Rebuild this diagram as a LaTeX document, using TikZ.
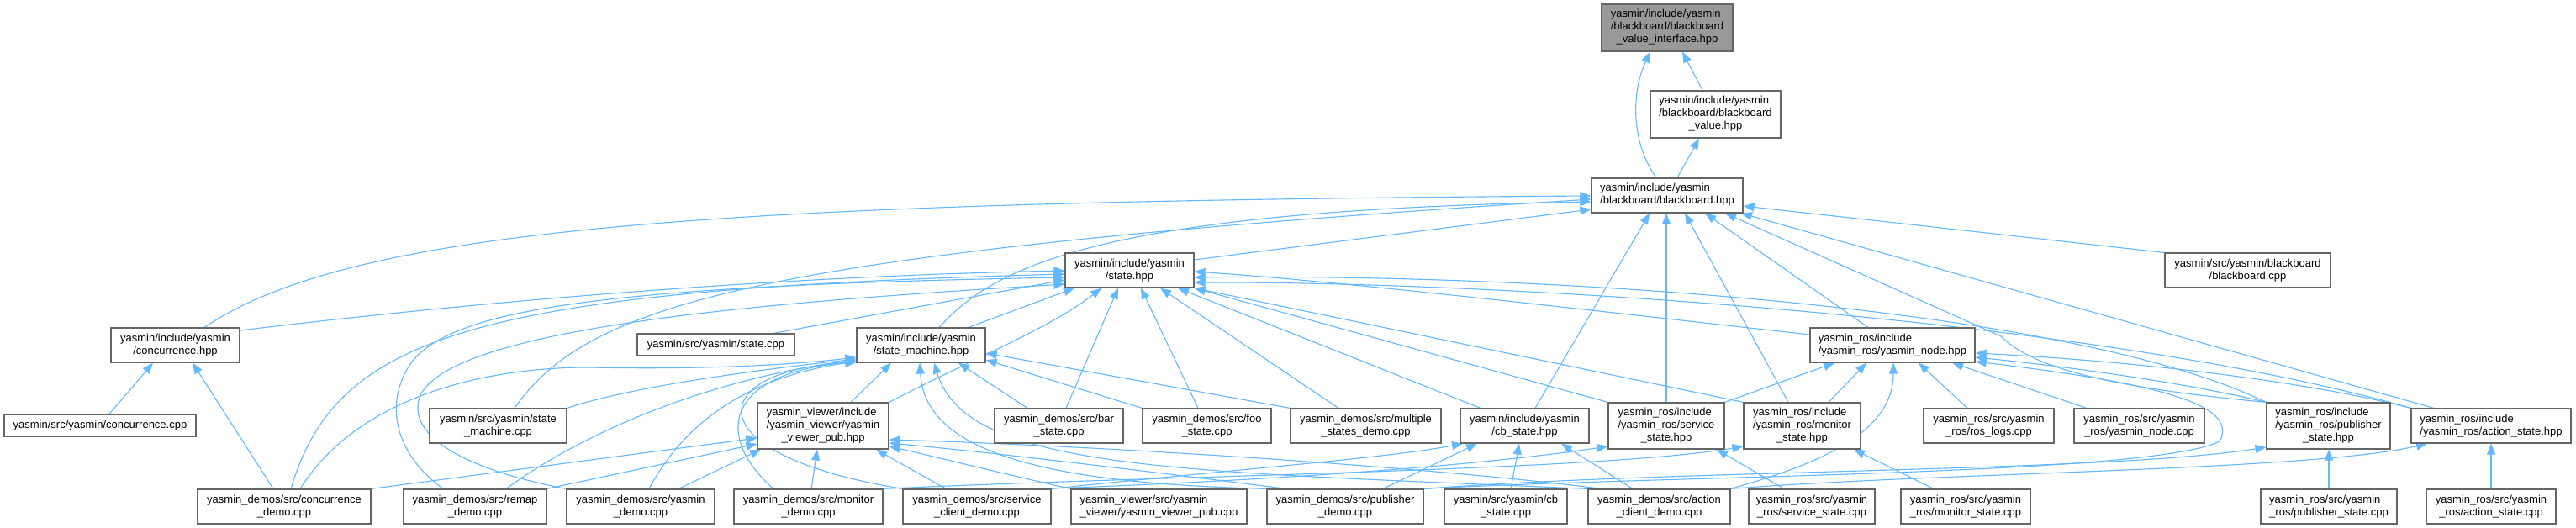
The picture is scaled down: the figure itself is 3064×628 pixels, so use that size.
\documentclass[tikz,border=0pt]{standalone}
\usepackage{fontspec}
\setmainfont{Liberation Sans}
\usetikzlibrary{arrows.meta}
\definecolor{edgec}{HTML}{63B8FF}
\definecolor{nodeb}{HTML}{666666}
\definecolor{rootf}{HTML}{999999}
\pgfdeclarelayer{bg}
\pgfdeclarelayer{bgfill}
\pgfsetlayers{bgfill,bg,main}
\newcommand\twol[2]{\begin{tabular}{@{}l@{}}#1\\\multicolumn{1}{@{}c@{}}{#2}\end{tabular}}
\newcommand\threel[3]{\begin{tabular}{@{}l@{}}#1\\#2\\\multicolumn{1}{@{}c@{}}{#3}\end{tabular}}
\newcommand\bx[7]{\node[#1, minimum width={(#5)-(#3)}, minimum height={(#6)-(#4)}] (#2) at ({((#3)+(#5))/2},{((#4)+(#6))/2}) {#7};}
\begin{document}
\begin{tikzpicture}[x=1pt,y=-1pt,
  e/.style={draw=edgec, line width=1.1pt, -{Triangle[length=13pt,width=10pt]}},
  nbox/.style={draw=nodeb, fill=white, line width=1.2pt, inner sep=0pt, font=\fontsize{13}{15}\selectfont},
  nroot/.style={nbox, fill=rootf}]
\begin{pgfonlayer}{bgfill}
\fill[white] (0,0) rectangle (3064,628);
\end{pgfonlayer}
\useasboundingbox (0,0) rectangle (3064,628);
% nodes
\bx{nroot}{N0}{1905}{5}{2061}{61}{\threel{yasmin/include/yasmin}{/blackboard/blackboard}{\_value\_interface.hpp}}
\bx{nbox}{N1}{1963}{108}{2118}{164}{\threel{yasmin/include/yasmin}{/blackboard/blackboard}{\_value.hpp}}
\bx{nbox}{N2}{1893}{212}{2073}{253}{\twol{yasmin/include/yasmin}{/blackboard/blackboard.hpp}}
\bx{nbox}{N3}{1267}{301}{1420}{342}{\twol{yasmin/include/yasmin}{/state.hpp}}
\bx{nbox}{N4}{2575}{301}{2772}{342}{\twol{yasmin/src/yasmin/blackboard}{/blackboard.cpp}}
\bx{nbox}{N5}{132}{390}{285}{431}{\twol{yasmin/include/yasmin}{/concurrence.hpp}}
\bx{nbox}{N6}{758}{397}{945}{423}{yasmin/src/yasmin/state.cpp}
\bx{nbox}{N7}{1019}{390}{1172}{431}{\twol{yasmin/include/yasmin}{/state\_machine.hpp}}
\bx{nbox}{N8}{2153}{390}{2349}{431}{\twol{yasmin\_ros/include}{/yasmin\_ros/yasmin\_node.hpp}}
\bx{nbox}{N9}{5}{493}{233}{519}{yasmin/src/yasmin/concurrence.cpp}
\bx{nbox}{N10}{511}{486}{674}{527}{\twol{yasmin/src/yasmin/state}{\_machine.cpp}}
\bx{nbox}{N11}{901}{479}{1057}{534}{\threel{yasmin\_viewer/include}{/yasmin\_viewer/yasmin}{\_viewer\_pub.hpp}}
\bx{nbox}{N12}{1183}{486}{1336}{527}{\twol{yasmin\_demos/src/bar}{\_state.cpp}}
\bx{nbox}{N13}{1359}{486}{1512}{527}{\twol{yasmin\_demos/src/foo}{\_state.cpp}}
\bx{nbox}{N14}{1535}{486}{1714}{527}{\twol{yasmin\_demos/src/multiple}{\_states\_demo.cpp}}
\bx{nbox}{N15}{1737}{486}{1890}{527}{\twol{yasmin/include/yasmin}{/cb\_state.hpp}}
\bx{nbox}{N16}{1913}{479}{2051}{534}{\threel{yasmin\_ros/include}{/yasmin\_ros/service}{\_state.hpp}}
\bx{nbox}{N17}{2074}{479}{2213}{534}{\threel{yasmin\_ros/include}{/yasmin\_ros/monitor}{\_state.hpp}}
\bx{nbox}{N18}{2288}{486}{2443}{527}{\twol{yasmin\_ros/src/yasmin}{\_ros/ros\_logs.cpp}}
\bx{nbox}{N19}{2467}{486}{2622}{527}{\twol{yasmin\_ros/src/yasmin}{\_ros/yasmin\_node.cpp}}
\bx{nbox}{N20}{2696}{479}{2843}{534}{\threel{yasmin\_ros/include}{/yasmin\_ros/publisher}{\_state.hpp}}
\bx{nbox}{N21}{2868}{486}{3058}{527}{\twol{yasmin\_ros/include}{/yasmin\_ros/action\_state.hpp}}
\bx{nbox}{N22}{235}{582}{441}{623}{\twol{yasmin\_demos/src/concurrence}{\_demo.cpp}}
\bx{nbox}{N23}{480}{582}{650}{623}{\twol{yasmin\_demos/src/remap}{\_demo.cpp}}
\bx{nbox}{N24}{674}{582}{850}{623}{\twol{yasmin\_demos/src/yasmin}{\_demo.cpp}}
\bx{nbox}{N25}{873}{582}{1050}{623}{\twol{yasmin\_demos/src/monitor}{\_demo.cpp}}
\bx{nbox}{N26}{1074}{582}{1250}{623}{\twol{yasmin\_demos/src/service}{\_client\_demo.cpp}}
\bx{nbox}{N27}{1274}{582}{1483}{623}{\twol{yasmin\_viewer/src/yasmin}{\_viewer/yasmin\_viewer\_pub.cpp}}
\bx{nbox}{N28}{1507}{582}{1693}{623}{\twol{yasmin\_demos/src/publisher}{\_demo.cpp}}
\bx{nbox}{N29}{1718}{582}{1864}{623}{\twol{yasmin/src/yasmin/cb}{\_state.cpp}}
\bx{nbox}{N30}{1889}{582}{2058}{623}{\twol{yasmin\_demos/src/action}{\_client\_demo.cpp}}
\bx{nbox}{N31}{2080}{582}{2230}{623}{\twol{yasmin\_ros/src/yasmin}{\_ros/service\_state.cpp}}
\bx{nbox}{N32}{2261}{582}{2415}{623}{\twol{yasmin\_ros/src/yasmin}{\_ros/monitor\_state.cpp}}
\bx{nbox}{N33}{2689}{582}{2851}{623}{\twol{yasmin\_ros/src/yasmin}{\_ros/publisher\_state.cpp}}
\bx{nbox}{N34}{2886}{582}{3040}{623}{\twol{yasmin\_ros/src/yasmin}{\_ros/action\_state.cpp}}
\begin{pgfonlayer}{bg}
% into N0, N1
\draw[e] (N1.north -| 2025,0) -- (N0.south -| 2001,0);
\draw[e] (N2.north -| 1970,0) .. controls (1940,170) and (1940,110) .. (N0.south -| 1963,0);
\draw[e] (N2.north -| 1995,0) -- (N1.south -| 2021,0);
% into N2
\draw[e] (N5.north -| 243,0) .. controls (420,270) and (850,240) .. (N2.west |- 0,233);
\draw[e] (N7.north -| 1117,0) .. controls (1180,320) and (1300,250) .. (N2.west |- 0,240);
\draw[e] (N3.east |- 0,309) -- (N2.west |- 0,249);
\draw[e] (N10.north -| 612,0) .. controls (700,360) and (900,300) .. (N2.west |- 0,237);
\draw[e] (N4.north west) -- (N2.east |- 0,245);
\draw[e] (N15.north -| 1826,0) -- (N2.south -| 1962,0);
\draw[e] (N16.north -| 1982,0) -- (N2.south -| 1982,0);
\draw[e] (N17.north -| 2127,0) -- (N2.south -| 2004,0);
\draw[e] (N8.north -| 2222,0) -- (N2.south -| 2028,0);
\draw[e] (N20.north west) .. controls (2520,462) and (2420,440) .. (2380,400) -- (N2.south -| 2052,0);
\draw[e] (N21.north -| 2895,0) -- (N2.south -| 2071,0);
% into N3
\draw[e] (N5.east |- 0,393) .. controls (600,355) and (950,328) .. (N3.west |- 0,322);
\draw[e] (N6.north -| 920,0) -- (N3.west |- 0,333);
\draw[e] (N22.north -| 346,0) .. controls (400,400) and (560,345) .. (N3.west |- 0,326);
\draw[e] (N23.north -| 527,0) .. controls (470,540) and (455,480) .. (490,430) .. controls (540,370) and (700,340) .. (N3.west |- 0,330);
\draw[e] (N24.north west) .. controls (560,560) and (480,520) .. (500,470) .. controls (540,390) and (900,360) .. (N3.west |- 0,338);
\draw[e] (N7.north -| 1152,0) -- (N3.south -| 1278,0);
\draw[e] (N11.north east) .. controls (1150,430) and (1250,390) .. (N3.south -| 1310,0);
\draw[e] (N12.north -| 1268,0) -- (N3.south -| 1330,0);
\draw[e] (N13.north -| 1425,0) -- (N3.south -| 1357,0);
\draw[e] (N14.north -| 1592,0) -- (N3.south -| 1380,0);
\draw[e] (N15.north -| 1761,0) -- (N3.south -| 1401,0);
\draw[e] (N16.north west) -- (N3.south east);
\draw[e] (N17.north west) -- (N3.south east);
\draw[e] (N8.west |- 0,398) .. controls (1900,370) and (1600,335) .. (N3.east |- 0,323);
\draw[e] (N20.north west) .. controls (2450,360) and (1800,325) .. (N3.east |- 0,330);
\draw[e] (N21.north west) .. controls (2500,380) and (1800,335) .. (N3.east |- 0,336);
% into N7
\draw[e] (N11.north -| 1012,0) -- (N7.south -| 1060,0);
\draw[e] (N22.north -| 357,0) .. controls (420,480) and (560,437) .. (700,437) .. controls (850,440) and (950,433) .. (N7.west |- 0,425);
\draw[e] (N23.north -| 602,0) .. controls (700,510) and (850,450) .. (N7.west |- 0,428);
\draw[e] (N10.north east) .. controls (750,460) and (900,440) .. (N7.west |- 0,427);
\draw[e] (N24.north -| 772,0) .. controls (810,510) and (880,450) .. (N7.west |- 0,430);
\draw[e] (N25.north -| 920,0) .. controls (850,520) and (860,445) .. (N7.west |- 0,430);
\draw[e] (N26.north west) .. controls (820,540) and (840,440) .. (N7.west |- 0,431);
\draw[e] (N28.north west) .. controls (1250,575) and (1100,540) .. (N7.south -| 1094,0);
\draw[e] (N30.north west) .. controls (1400,560) and (1150,560) .. (N7.south -| 1111,0);
\draw[e] (N12.north -| 1222,0) -- (N7.south -| 1140,0);
\draw[e] (N13.north west) -- (N7.east |- 0,428);
\draw[e] (N14.north west) -- (N7.east |- 0,420);
% into N11
\draw[e] (N22.north east) -- (N11.west |- 0,521);
\draw[e] (N23.north east) -- (N11.west |- 0,528);
\draw[e] (N24.north -| 807,0) -- (N11.south -| 905,0);
\draw[e] (N25.north -| 965,0) -- (N11.south -| 972,0);
\draw[e] (N26.north -| 1125,0) -- (N11.south -| 1042,0);
\draw[e] (N27.north west) .. controls (1200,565) and (1120,545) .. (N11.east |- 0,531);
\draw[e] (N28.north -| 1530,0) .. controls (1400,565) and (1200,540) .. (N11.east |- 0,527);
\draw[e] (N30.north -| 1905,0) .. controls (1700,555) and (1300,530) .. (N11.east |- 0,523);
% into N15
\draw[e] (N26.north east) .. controls (1450,560) and (1650,545) .. (N15.south -| 1740,0);
\draw[e] (N28.north -| 1645,0) -- (N15.south -| 1757,0);
\draw[e] (N29.north -| 1797,0) -- (N15.south -| 1807,0);
\draw[e] (N30.north -| 1942,0) -- (N15.south -| 1857,0);
% into N16, N17
\draw[e] (N26.north -| 1240,0) .. controls (1500,572) and (1750,555) .. (N16.west |- 0,531);
\draw[e] (N31.north -| 2122,0) -- (N16.south -| 2042,0);
\draw[e] (N25.north east) .. controls (1400,565) and (1900,560) .. (N17.west |- 0,531);
\draw[e] (N32.north -| 2300,0) -- (N17.south -| 2205,0);
% into N8
\draw[e] (N16.north east) -- (N8.south -| 2182,0);
\draw[e] (N17.north -| 2175,0) -- (N8.south -| 2220,0);
\draw[e] (N30.north east) .. controls (2150,555) and (2252,520) .. (N8.south -| 2252,0);
\draw[e] (N18.north -| 2340,0) -- (N8.south -| 2282,0);
\draw[e] (N19.north -| 2482,0) -- (N8.south -| 2322,0);
\draw[e] (N20.north west) .. controls (2600,455) and (2450,435) .. (N8.east |- 0,425);
\draw[e] (N21.north west) .. controls (2750,455) and (2550,430) .. (N8.east |- 0,420);
\draw[e] (N28.north east) .. controls (2000,565) and (2560,565) .. (2640,525) .. controls (2665,480) and (2560,455) .. (N8.east |- 0,430);
% into N20, N21
\draw[e] (N28.north east) .. controls (2000,558) and (2500,562) .. (N20.west |- 0,532);
\draw[e] (N33.north -| 2770,0) -- (N20.south -| 2770,0);
\draw[e] (N30.north east) .. controls (2300,562) and (2750,560) .. (N21.south -| 2887,0);
\draw[e] (N34.north -| 2963,0) -- (N21.south -| 2963,0);
% into N5
\draw[e] (N9.north -| 130,0) -- (N5.south -| 182,0);
\draw[e] (N22.north -| 325,0) -- (N5.south -| 229,0);
\end{pgfonlayer}
\end{tikzpicture}
\end{document}
